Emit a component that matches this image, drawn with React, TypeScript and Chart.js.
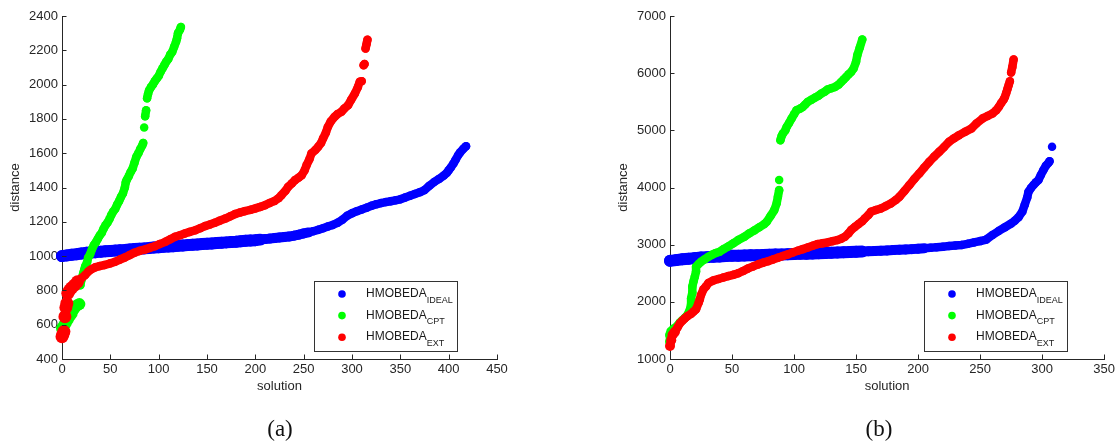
import React, { useEffect, useRef } from "react";
import { Chart, registerables } from "chart.js";

Chart.register(...registerables);

// ---------- Panel (a) data: [solution, distance] ----------
const aIdeal: [number, number][] = [
  [0, 1000], [5, 1004], [10, 1008], [15, 1011], [20, 1015], [25, 1019], [30, 1021], [35, 1023], [40, 1026], [45, 1028],
  [50, 1030], [55, 1032], [60, 1034], [65, 1036], [70, 1039], [75, 1041], [80, 1043], [85, 1045], [90, 1047], [95, 1050],
  [100, 1052], [105, 1054], [110, 1056], [115, 1058], [120, 1060], [125, 1062], [130, 1064], [135, 1066], [140, 1068], [145, 1070],
  [150, 1072], [155, 1074], [160, 1076], [165, 1078], [170, 1080], [175, 1082], [180, 1084], [185, 1087], [190, 1089], [195, 1091],
  [200, 1093], [205, 1096], [210, 1099], [215, 1102], [220, 1105], [225, 1108], [230, 1111], [235, 1114], [240, 1119], [245, 1125],
  [250, 1132], [255, 1138], [260, 1145], [265, 1153], [270, 1162], [275, 1172], [280, 1182], [285, 1194], [290, 1212], [295, 1235],
  [300, 1250], [305, 1262], [310, 1272], [315, 1282], [320, 1293], [325, 1302], [330, 1309], [335, 1315], [340, 1320], [345, 1325],
  [350, 1331], [355, 1342], [360, 1352], [365, 1362], [370, 1372], [375, 1385], [380, 1410], [385, 1432], [390, 1450], [395, 1470],
  [398, 1485], [400, 1500], [402, 1515], [405, 1540], [407, 1560], [410, 1590], [412, 1605], [415, 1625], [418, 1641],
];
const aCpt: [number, number][] = [
  [0, 580], [2, 595], [4, 610], [6, 630], [8, 650], [10, 665], [12, 690], [14, 705], [16, 715], [18, 720],
  [19, 830], [20, 860], [21, 880], [22, 900], [23, 920], [24, 940], [26, 965], [27, 990], [29, 1010], [31, 1040],
  [33, 1065], [35, 1080], [37, 1100], [39, 1120], [41, 1135], [43, 1160], [45, 1180], [47, 1195], [49, 1215], [51, 1240],
  [53, 1260], [55, 1275], [57, 1300], [59, 1320], [61, 1345], [63, 1365], [65, 1400], [66, 1430], [67, 1445], [69, 1465],
  [71, 1490], [73, 1510], [75, 1545], [77, 1580], [79, 1600], [81, 1625], [83, 1645], [84, 1660], [85, 1750], [86, 1815],
  [87, 1850], [88, 1920], [89, 1945], [90, 1965], [92, 1985], [94, 2000], [96, 2020], [98, 2035], [100, 2050], [102, 2075],
  [104, 2095], [106, 2115], [108, 2135], [110, 2150], [112, 2175], [114, 2190], [116, 2220], [118, 2250], [119, 2270], [120, 2300],
  [122, 2320], [123, 2336],
];
const aExt: [number, number][] = [
  [0, 530], [1, 545], [2, 560], [3, 647], [4, 700], [5, 724], [6, 783], [8, 802], [10, 815], [13, 831],
  [16, 850], [20, 870], [24, 890], [27, 909], [30, 922], [34, 934], [39, 942], [44, 948], [50, 958], [55, 967],
  [60, 980], [65, 992], [70, 1006], [75, 1020], [80, 1030], [86, 1039], [91, 1048], [96, 1058], [101, 1070], [107, 1083],
  [112, 1098], [117, 1113], [122, 1122], [127, 1132], [132, 1141], [138, 1151], [143, 1163], [148, 1175], [153, 1184], [158, 1194],
  [163, 1206], [169, 1219], [174, 1232], [179, 1245], [184, 1254], [189, 1262], [195, 1270], [200, 1278], [205, 1287], [210, 1297],
  [215, 1310], [220, 1322], [224, 1338], [227, 1355], [231, 1380], [234, 1404], [238, 1425], [241, 1443], [245, 1458], [248, 1472],
  [251, 1500], [253, 1530], [256, 1565], [258, 1598], [262, 1618], [265, 1637], [268, 1660], [270, 1685], [273, 1720], [275, 1753],
  [278, 1785], [282, 1812], [285, 1828], [289, 1841], [292, 1860], [296, 1880], [299, 1910], [303, 1948], [306, 1985], [308, 2016],
  [310, 2020], [312, 2113], [313, 2120], [314, 2210], [315, 2235], [316, 2262],
];

// ---------- Panel (b) data: [solution, distance] ----------
const bIdeal: [number, number][] = [
  [0, 2717], [5, 2730], [10, 2745], [15, 2755], [20, 2765], [25, 2775], [30, 2782], [35, 2790], [40, 2795], [45, 2800],
  [50, 2805], [55, 2808], [60, 2811], [65, 2814], [70, 2817], [75, 2820], [80, 2823], [85, 2826], [90, 2829], [95, 2832],
  [100, 2835], [105, 2839], [110, 2843], [115, 2847], [120, 2851], [125, 2855], [130, 2860], [135, 2865], [140, 2869], [145, 2873],
  [150, 2877], [155, 2880], [160, 2885], [165, 2890], [170, 2895], [175, 2900], [180, 2905], [185, 2910], [190, 2916], [195, 2922],
  [200, 2930], [205, 2937], [210, 2945], [215, 2955], [220, 2965], [225, 2975], [230, 2985], [235, 2995], [240, 3015], [245, 3040],
  [250, 3062], [255, 3090], [260, 3170], [265, 3240], [270, 3305], [275, 3370], [278, 3420], [281, 3480], [284, 3576], [286, 3700],
  [288, 3827], [289, 3925], [291, 3990], [293, 4042], [295, 4090], [297, 4130], [299, 4220], [301, 4304], [303, 4380], [305, 4430],
  [306, 4460], [308, 4712],
];
const bCpt: [number, number][] = [
  [0, 1300], [0, 1420], [1, 1480], [3, 1520], [5, 1560], [8, 1640], [10, 1680], [12, 1720], [14, 1770], [16, 1860],
  [17, 1960], [17, 2060], [18, 2160], [18, 2266], [19, 2360], [20, 2440], [21, 2530], [21, 2615], [23, 2660], [25, 2700],
  [28, 2745], [31, 2790], [34, 2825], [37, 2855], [40, 2877], [43, 2920], [47, 2970], [51, 3024], [55, 3080], [60, 3140],
  [64, 3199], [68, 3250], [72, 3305], [76, 3360], [78, 3401], [81, 3500], [84, 3600], [86, 3723], [87, 3840], [88, 3954],
  [88, 4130], [89, 4827], [90, 4900], [91, 4944], [93, 5000], [94, 5060], [96, 5130], [98, 5206], [100, 5280], [102, 5352],
  [105, 5380], [107, 5410], [109, 5450], [111, 5497], [114, 5535], [117, 5573], [120, 5610], [122, 5643], [125, 5680], [127, 5713],
  [130, 5735], [133, 5759], [136, 5800], [138, 5847], [140, 5890], [142, 5934], [144, 5980], [146, 6021], [148, 6080], [150, 6200],
  [151, 6313], [153, 6450], [155, 6588],
];
const bExt: [number, number][] = [
  [0, 1227], [1, 1330], [2, 1420], [3, 1450], [4, 1478], [6, 1550], [8, 1624], [10, 1670], [12, 1711], [14, 1750],
  [17, 1790], [19, 1830], [21, 1870], [23, 1980], [24, 2040], [25, 2120], [27, 2220], [29, 2270], [31, 2330], [35, 2375],
  [39, 2400], [43, 2425], [47, 2450], [51, 2472], [55, 2500], [59, 2540], [63, 2585], [67, 2620], [71, 2655], [75, 2685],
  [79, 2710], [83, 2740], [87, 2770], [91, 2800], [95, 2830], [99, 2864], [103, 2893], [107, 2922], [111, 2952], [115, 2981],
  [119, 3010], [123, 3025], [127, 3039], [131, 3060], [135, 3080], [138, 3105], [141, 3138], [144, 3200], [146, 3255], [149, 3310],
  [152, 3360], [155, 3410], [157, 3458], [160, 3520], [162, 3575], [166, 3605], [170, 3633], [174, 3675], [178, 3720], [182, 3780],
  [185, 3838], [189, 3940], [193, 4042], [197, 4150], [201, 4246], [205, 4350], [209, 4449], [213, 4540], [217, 4624], [221, 4710],
  [225, 4800], [229, 4860], [233, 4916], [238, 4975], [243, 5033], [247, 5120], [252, 5208], [256, 5250], [260, 5295], [263, 5350],
  [265, 5410], [267, 5480], [269, 5540], [270, 5585], [271, 5650], [272, 5720], [273, 5789], [274, 5860], [275, 6010], [276, 6110],
  [277, 6238],
];

// ---------- Ticks & labels ----------
const aXTicks = [0, 50, 100, 150, 200, 250, 300, 350, 400, 450];
const aYTicks = [400, 600, 800, 1000, 1200, 1400, 1600, 1800, 2000, 2200, 2400];
const bXTicks = [0, 50, 100, 150, 200, 250, 300, 350];
const bYTicks = [1000, 2000, 3000, 4000, 5000, 6000, 7000];
const seriesMain = "HMOBEDA";
const seriesSubs = ["IDEAL", "CPT", "EXT"];
const xTitle = "solution";
const yTitle = "distance";
const captions = ["(a)", "(b)"];

const COLORS = ["#0000FF", "#00FF00", "#FF0000"];
const AXIS = "#262626";
const SANS = '"Liberation Sans", Arial, Helvetica, sans-serif';
const BASE_W = 8.5;
const GAP_PX = 8.5;

const toPts = (arr: [number, number][]) => arr.map(([x, y]) => ({ x, y }));

const inwardTicks = {
  id: "inwardTicks",
  afterDraw(chart: any) {
    const { ctx, chartArea } = chart;
    const xs = chart.scales.x;
    const ys = chart.scales.y;
    ctx.save();
    ctx.strokeStyle = AXIS;
    ctx.lineWidth = 1;
    ctx.beginPath();
    xs.ticks.forEach((t: any) => {
      const p = Math.round(xs.getPixelForValue(t.value)) + 0.5;
      ctx.moveTo(p, chartArea.bottom);
      ctx.lineTo(p, chartArea.bottom - 4.5);
    });
    ys.ticks.forEach((t: any) => {
      const p = Math.round(ys.getPixelForValue(t.value)) + 0.5;
      ctx.moveTo(chartArea.left, p);
      ctx.lineTo(chartArea.left + 4.5, p);
    });
    ctx.stroke();
    ctx.restore();
  },
};

const subLegend = {
  id: "subLegend",
  afterDraw(chart: any, _args: any, opts: any) {
    const { ctx, chartArea } = chart;
    const w = opts.width;
    const h = opts.height;
    const x0 = Math.round(chartArea.right - opts.rightInset - w);
    const y0 = Math.round(chartArea.bottom - opts.bottomInset - h);
    ctx.save();
    ctx.fillStyle = "#ffffff";
    ctx.fillRect(x0, y0, w, h);
    ctx.strokeStyle = "#333333";
    ctx.lineWidth = 1;
    ctx.strokeRect(x0 + 0.5, y0 + 0.5, w, h);
    chart.data.datasets.forEach((ds: any, i: number) => {
      const cy = y0 + 13 + i * 21.6;
      ctx.fillStyle = ds.backgroundColor;
      ctx.beginPath();
      ctx.arc(x0 + 28, cy, 3.8, 0, Math.PI * 2);
      ctx.fill();
      const [main, sub] = ds.label.split("_");
      ctx.fillStyle = "#1a1a1a";
      ctx.textBaseline = "alphabetic";
      ctx.textAlign = "left";
      ctx.font = `12px ${SANS}`;
      ctx.fillText(main, x0 + 52, cy + 3.2);
      const mw = ctx.measureText(main).width;
      ctx.font = `9px ${SANS}`;
      ctx.fillText(sub, x0 + 52 + mw, cy + 8.5);
    });
    ctx.restore();
  },
};

type PanelCfg = {
  series: [number, number][][];
  xTicks: number[];
  yTicks: number[];
  padLeft: number;
  padRight: number;
  bigX: number;
  bigR: number[];
  band: [number, number];
  legendInset: number;
};

function buildConfig(cfg: PanelCfg): any {
  const tickFont = { family: SANS, size: 13 };
  const widthAt = (i: number, x: number) =>
    i === 0 ? (x <= cfg.band[0] ? 12 : x <= cfg.band[1] ? 10 : BASE_W) : BASE_W;
  const datasets = cfg.series.map((s, i) => ({
    label: `${seriesMain}_${seriesSubs[i]}`,
    data: toPts(s),
    backgroundColor: COLORS[i],
    borderColor: COLORS[i],
    borderWidth: BASE_W,
    borderCapStyle: "round",
    borderJoinStyle: "round",
    showLine: true,
    tension: 0,
    fill: false,
    pointBorderWidth: 0,
    order: 3 - i,
    clip: false,
    pointRadius: (c: any) => {
      const raw = c.raw;
      if (!raw) return BASE_W / 2;
      if (raw.x <= cfg.bigX && cfg.bigR[i] > 0) return cfg.bigR[i];
      return widthAt(i, raw.x) / 2;
    },
    segment: {
      borderWidth: (c: any) => widthAt(i, s[c.p0DataIndex][0]),
      borderColor: (c: any) =>
        Math.hypot(c.p1.x - c.p0.x, c.p1.y - c.p0.y) > GAP_PX ? "rgba(0,0,0,0)" : COLORS[i],
    },
  }));
  return {
    type: "scatter",
    data: { datasets },
    options: {
      responsive: false,
      animation: false,
      events: [],
      layout: { padding: { left: cfg.padLeft, right: cfg.padRight, top: 16, bottom: 0 } },
      plugins: {
        legend: { display: false },
        tooltip: { enabled: false },
        subLegend: { width: 143, height: 70, rightInset: cfg.legendInset, bottomInset: 8 },
      },
      scales: {
        x: {
          type: "linear",
          min: cfg.xTicks[0],
          max: cfg.xTicks[cfg.xTicks.length - 1],
          afterFit: (sc: any) => {
            sc.height = 84;
          },
          afterBuildTicks: (sc: any) => {
            sc.ticks = cfg.xTicks.map((v) => ({ value: v }));
          },
          ticks: {
            font: tickFont,
            color: AXIS,
            padding: 3,
            maxRotation: 0,
            autoSkip: false,
            callback: (v: any) => String(v),
          },
          grid: { display: true, drawOnChartArea: false, drawTicks: false },
          border: { display: true, color: AXIS, width: 1 },
          title: {
            display: true,
            text: xTitle,
            font: tickFont,
            color: AXIS,
            padding: { top: 0, bottom: 48.5 },
          },
        },
        y: {
          type: "linear",
          min: cfg.yTicks[0],
          max: cfg.yTicks[cfg.yTicks.length - 1],
          afterFit: (sc: any) => {
            sc.width = 62;
          },
          afterBuildTicks: (sc: any) => {
            sc.ticks = cfg.yTicks.map((v) => ({ value: v }));
          },
          ticks: { font: tickFont, color: AXIS, padding: 4, autoSkip: false, callback: (v: any) => String(v) },
          grid: { display: true, drawOnChartArea: false, drawTicks: false },
          border: { display: true, color: AXIS, width: 1 },
          title: {
            display: true,
            text: yTitle,
            font: tickFont,
            color: AXIS,
            padding: { top: 7.2, bottom: 0 },
          },
        },
      },
    },
    plugins: [inwardTicks, subLegend],
  };
}

function Panel({ cfg, left }: { cfg: PanelCfg; left: number }) {
  const ref = useRef<HTMLCanvasElement | null>(null);
  useEffect(() => {
    const chart = new Chart(ref.current as HTMLCanvasElement, buildConfig(cfg));
    return () => chart.destroy();
  }, []);
  return (
    <canvas
      ref={ref}
      width={559}
      height={443}
      style={{ position: "absolute", left, top: 0, width: 559, height: 443, display: "block" }}
    />
  );
}

const panelA: PanelCfg = {
  series: [aIdeal, aCpt, aExt],
  xTicks: aXTicks,
  yTicks: aYTicks,
  padLeft: 0,
  padRight: 62,
  bigX: 18,
  bigR: [6, 6, 6.5],
  band: [200, 250],
  legendInset: 40,
};
const panelB: PanelCfg = {
  series: [bIdeal, bCpt, bExt],
  xTicks: bXTicks,
  yTicks: bYTicks,
  padLeft: 49,
  padRight: 13,
  bigX: 4,
  bigR: [6, 5, 5],
  band: [150, 200],
  legendInset: 37,
};

export default function App() {
  const capStyle = (cx: number): React.CSSProperties => ({
    position: "absolute",
    left: cx,
    top: 416,
    transform: "translateX(-50%)",
    fontFamily: '"Liberation Serif", "Times New Roman", serif',
    fontSize: 23,
    lineHeight: "26px",
    color: "#111",
    whiteSpace: "nowrap",
  });
  return (
    <div style={{ position: "absolute", left: 0, top: 0, width: 1118, height: 443, background: "#fff", overflow: "hidden" }}>
      <Panel cfg={panelA} left={0} />
      <Panel cfg={panelB} left={559} />
      <div style={capStyle(280)}>{captions[0]}</div>
      <div style={capStyle(879)}>{captions[1]}</div>
    </div>
  );
}
